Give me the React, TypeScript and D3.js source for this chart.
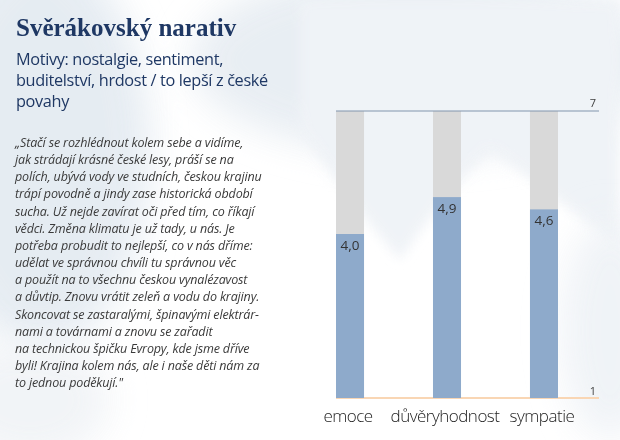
import React from "react";
import * as d3 from "d3";

const categories = ["emoce", "důvěryhodnost", "sympatie"];
const values = [4.0, 4.9, 4.6];
const scaleMin = 0;
const scaleMax = 7;
const tickLabels = ["1", "7"];
const title = "Svěrákovský narativ";
const subtitleLines = [
  "Motivy: nostalgie, sentiment,",
  "buditelství, hrdost / to lepší z české",
  "povahy",
];
const quoteLines = [
  "„Stačí se rozhlédnout kolem sebe a vidíme,",
  "jak strádají krásné české lesy, práší se na",
  "polích, ubývá vody ve studních, českou krajinu",
  "trápí povodně a jindy zase historická období",
  "sucha. Už nejde zavírat oči před tím, co říkají",
  "vědci. Změna klimatu je už tady, u nás. Je",
  "potřeba probudit to nejlepší, co v nás dříme:",
  "udělat ve správnou chvíli tu správnou věc",
  "a použít na to všechnu českou vynalézavost",
  "a důvtip. Znovu vrátit zeleň a vodu do krajiny.",
  "Skoncovat se zastaralými, špinavými elektrár-",
  "nami a továrnami a znovu se zařadit",
  "na technickou špičku Evropy, kde jsme dříve",
  "byli! Krajina kolem nás, ale i naše děti nám za",
  "to jednou poděkují.\"",
];

const W = 620;
const H = 440;
const plotLeft = 336;
const plotRight = 599;
const plotTop = 111;
const plotBottom = 398;

export default function App() {
  const x = d3
    .scaleBand<string>()
    .domain(categories)
    .range([plotLeft, plotLeft + 222])
    .paddingInner(0.711)
    .paddingOuter(0);
  const y = d3.scaleLinear().domain([scaleMin, scaleMax]).range([plotBottom, plotTop]);
  const fmt = (v: number) => d3.format(".1f")(v).replace(".", ",");
  const bw = x.bandwidth();
  const navy = "#1f3864";

  return (
    <svg
      width={W}
      height={H}
      style={{ position: "absolute", left: 0, top: 0, background: "#ffffff" }}
    >
      <defs>
        <filter id="blur" x="-50%" y="-50%" width="200%" height="200%">
          <feGaussianBlur stdDeviation="18" />
        </filter>
        <filter id="blur2" x="-50%" y="-50%" width="200%" height="200%">
          <feGaussianBlur stdDeviation="6" />
        </filter>
      </defs>
      <g opacity={0.9}>
        <ellipse cx={40} cy={150} rx={110} ry={200} fill="#e3eaf1" filter="url(#blur)" />
        <ellipse cx={420} cy={60} rx={230} ry={95} fill="#e6ecf2" filter="url(#blur)" />
        <path d="M300,0 L620,0 L620,250 Q560,200 490,150 Q440,200 400,260 Q340,190 300,130 Z" fill="#eef2f6" filter="url(#blur2)" />
        <ellipse cx={610} cy={330} rx={50} ry={110} fill="#eef2f6" filter="url(#blur)" />
        <ellipse cx={30} cy={400} rx={80} ry={60} fill="#f0f3f6" filter="url(#blur)" />
      </g>

      <text x={16} y={36} fontFamily="Liberation Serif, serif" fontWeight="bold" fontSize={25} fill={navy}>
        {title}
      </text>
      {subtitleLines.map((l, i) => (
        <text key={i} x={16} y={65 + i * 21} fontFamily="Open Sans, sans-serif" fontSize={16.3} fill={navy} letterSpacing={-0.35}>
          {l}
        </text>
      ))}
      {quoteLines.map((l, i) => (
        <text key={i} x={15} y={147 + i * 17.15} fontFamily="Open Sans, sans-serif" fontStyle="italic" fontSize={12.5} fill="#3a3a3a" letterSpacing={-0.15}>
          {l}
        </text>
      ))}

      {categories.map((c) => (
        <rect key={"bg" + c} x={x(c)} y={y(scaleMax)} width={bw} height={y(scaleMin) - y(scaleMax)} fill="#d9d9d9" />
      ))}
      <line x1={plotLeft} x2={plotRight} y1={plotBottom} y2={plotBottom} stroke="#f9d6b4" strokeWidth={2} />
      {categories.map((c, i) => (
        <rect key={"v" + c} x={x(c)} y={y(values[i])} width={bw} height={y(scaleMin) - y(values[i])} fill="#8eaacb" />
      ))}
      <line x1={plotLeft} x2={plotRight} y1={plotTop} y2={plotTop} stroke="#8196ad" strokeWidth={1.2} />

      {categories.map((c, i) => (
        <text key={"l" + c} x={(x(c) as number) + bw / 2} y={y(values[i]) + 16} textAnchor="middle" fontFamily="Open Sans, sans-serif" fontSize={13.5} fill="#333333">
          {fmt(values[i])}
        </text>
      ))}
      <text x={596} y={395} textAnchor="end" fontFamily="Open Sans, sans-serif" fontSize={11} fill="#404040">{tickLabels[0]}</text>
      <text x={596} y={107} textAnchor="end" fontFamily="Open Sans, sans-serif" fontSize={11} fill="#404040">{tickLabels[1]}</text>

      {categories.map((c) => (
        <text key={"c" + c} x={(x(c) as number) + bw / 2 - 2} y={422} textAnchor="middle" fontFamily="Open Sans, sans-serif" fontWeight={300} fontSize={17} fill="#222222" letterSpacing={-0.5}>
          {c}
        </text>
      ))}
    </svg>
  );
}
